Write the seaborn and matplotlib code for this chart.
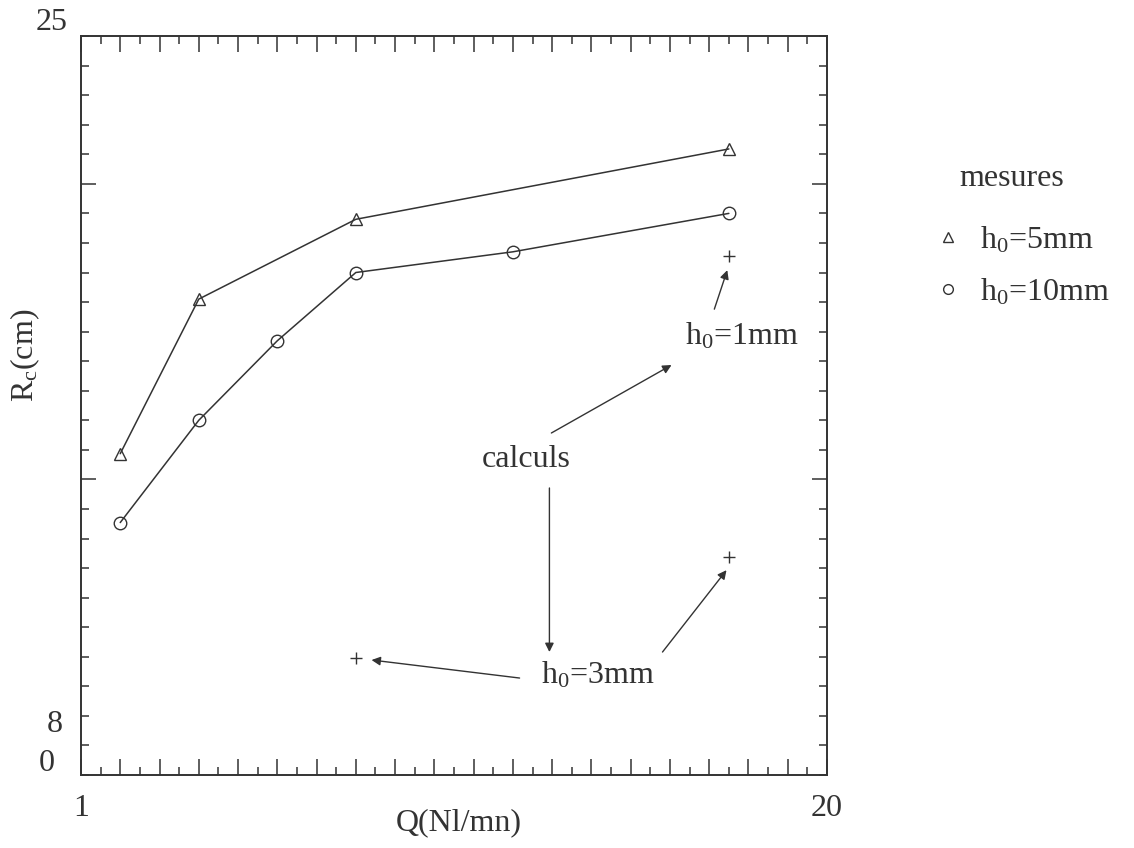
import matplotlib
matplotlib.use("Agg")
import matplotlib.pyplot as plt
from matplotlib.lines import Line2D
from matplotlib.ticker import MultipleLocator, FixedLocator
import seaborn as sns
import numpy as np

# ---- data ----
Q_h5 = [2, 4, 8, 17.5]
Rc_h5 = [10.87, 16.1, 18.8, 21.18]

Q_h10 = [2, 4, 6, 8, 12, 17.5]
Rc_h10 = [8.54, 12.0, 14.69, 17.0, 17.7, 19.0]

Q_calc_h1 = [17.5]
Rc_calc_h1 = [17.56]
Q_calc_h3 = [8, 17.5]
Rc_calc_h3 = [3.96, 7.37]

x_tick_labels = ["1"] + [""] * 18 + ["20"]
y_label_texts = ["0", "8", "25"]
y_label_pos = [0.4, 1.7, 25.45]

INK = "#333333"

sns.set_style("ticks")
plt.rcParams["font.family"] = ["Liberation Serif", "DejaVu Serif"]
plt.rcParams["mathtext.fontset"] = "custom"
plt.rcParams["mathtext.rm"] = "Liberation Serif"
plt.rcParams["mathtext.it"] = "Liberation Serif:italic"
plt.rcParams["text.color"] = INK
FS = 23

fig = plt.figure(figsize=(11.34, 8.48), dpi=100)
ax = fig.add_axes([0.0714, 0.0861, 0.6579, 0.8714])

sns.lineplot(x=Q_h5, y=Rc_h5, ax=ax, sort=False, estimator=None, color=INK,
             lw=1.1, marker="^", ms=8, mfc="none", mec=INK, mew=1.0)
sns.lineplot(x=Q_h10, y=Rc_h10, ax=ax, sort=False, estimator=None, color=INK,
             lw=1.1, marker="o", ms=9, mfc="none", mec=INK, mew=1.0)
sns.scatterplot(x=Q_calc_h1 + Q_calc_h3, y=Rc_calc_h1 + Rc_calc_h3, ax=ax,
                marker="+", s=80, color=INK, linewidth=1.0)

ax.set_xlim(1, 20)
ax.set_ylim(0, 25)

for s in ax.spines.values():
    s.set_visible(True)
    s.set_linewidth(1.4)
    s.set_color(INK)

ax.xaxis.set_major_locator(FixedLocator(list(range(1, 21))))
ax.set_xticklabels(x_tick_labels)
ax.xaxis.set_minor_locator(MultipleLocator(0.5))
ax.yaxis.set_major_locator(FixedLocator([10, 20]))
ax.set_yticklabels(["", ""])
ax.yaxis.set_minor_locator(MultipleLocator(1))

ax.tick_params(which="both", direction="in", top=True, right=True, color=INK, width=1.1)
ax.tick_params(axis="x", which="major", length=11.5, pad=14, labelsize=FS, labelcolor=INK)
ax.tick_params(axis="x", which="minor", length=5.8)
ax.tick_params(axis="y", which="major", length=10.8)
ax.tick_params(axis="y", which="minor", length=5.8)

ytrans = ax.get_yaxis_transform()
for t, yv, xo in zip(y_label_texts, y_label_pos, [-0.046, -0.035, -0.04]):
    ax.text(xo, yv, t, transform=ytrans, ha="center", va="center", fontsize=FS,
            color=INK, clip_on=False)

ax.set_xlabel("Q(Nl/mn)", fontsize=FS, color=INK)
ax.xaxis.set_label_coords(0.507, -0.045)
ax.set_ylabel(r"R$_\mathrm{c}$(cm)", fontsize=FS, color=INK)
ax.yaxis.set_label_coords(-0.052, 0.568)

# ---- annotations ----
ap = dict(arrowstyle="-|>", lw=1.0, color=INK, mutation_scale=13, shrinkA=0, shrinkB=0)
ax.text(12.35, 10.66, "calculs", fontsize=FS, ha="center", va="center", color=INK)
ax.annotate("", xy=(16.04, 13.87), xytext=(12.98, 11.57), arrowprops=ap)
ax.annotate("", xy=(12.93, 4.16), xytext=(12.93, 9.71), arrowprops=ap)
ax.text(17.82, 14.85, r"h$_\mathrm{0}$=1mm", fontsize=FS, ha="center", va="center", color=INK)
ax.annotate("", xy=(17.46, 17.08), xytext=(17.13, 15.76), arrowprops=ap)
ax.text(14.16, 3.38, r"h$_\mathrm{0}$=3mm", fontsize=FS, ha="center", va="center", color=INK)
ax.annotate("", xy=(8.40, 3.89), xytext=(12.17, 3.28), arrowprops=ap)
ax.annotate("", xy=(17.44, 6.93), xytext=(15.81, 4.16), arrowprops=ap)

# ---- legend ----
fig.text(1012 / 1134, 1 - 178 / 848, "mesures", fontsize=FS, ha="center", va="center", color=INK)
handles = [Line2D([], [], ls="none", marker="^", ms=7, mfc="none", mec=INK, mew=1.0),
           Line2D([], [], ls="none", marker="o", ms=7, mfc="none", mec=INK, mew=1.0)]
leg = ax.legend(handles, [r"h$_\mathrm{0}$=5mm", r"h$_\mathrm{0}$=10mm"],
                frameon=False, loc="upper left", bbox_to_anchor=(1.12, 0.766),
                fontsize=FS, borderpad=0, handlelength=1.0,
                handletextpad=0.5, labelspacing=0.67)
for t in leg.get_texts():
    t.set_color(INK)

fig.savefig("out.png", dpi=100, facecolor="white")
